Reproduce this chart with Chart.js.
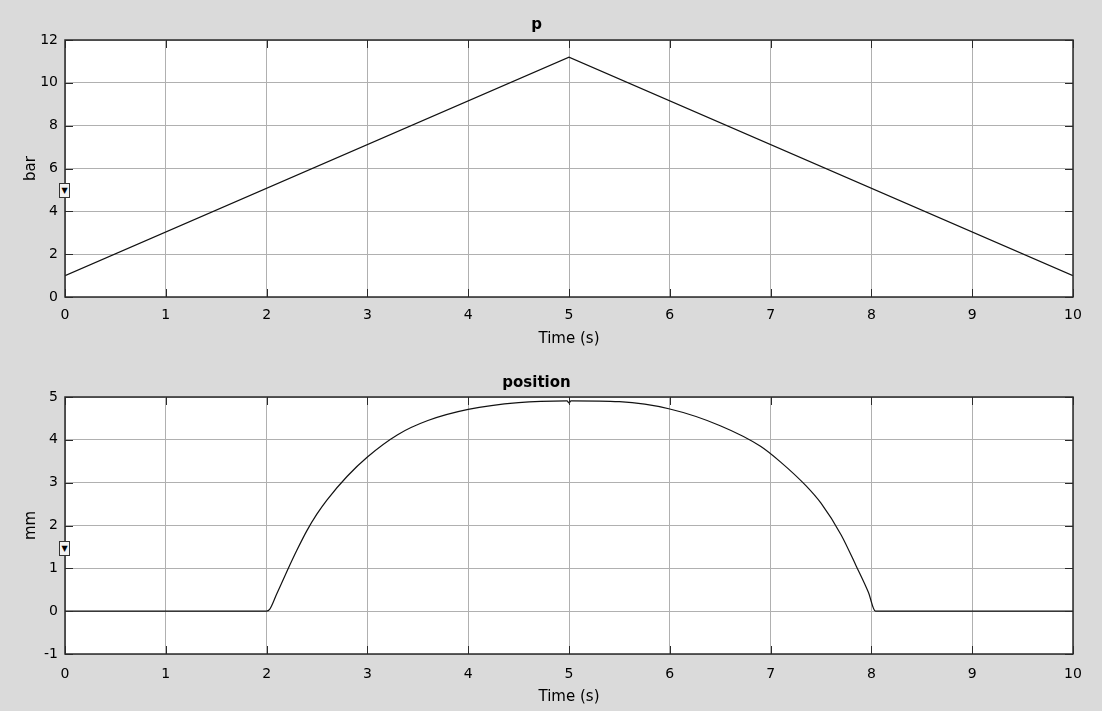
<!DOCTYPE html>
<html>
<head>
<meta charset="utf-8">
<script src="https://cdn.jsdelivr.net/npm/chart.js@4/dist/chart.umd.min.js"></script>
<style>
  html, body { margin: 0; padding: 0; background: #dadada; }
  body { width: 1102px; height: 711px; position: relative; overflow: hidden; }
  .box { position: absolute; left: 0; width: 1102px; }
  .marker {
    position: absolute; left: 59px; width: 9px; height: 13px;
    border: 1px solid #333; background: #f2f2f2;
    font: 8px "DejaVu Sans"; line-height: 13px; text-align: center; color: #000;
  }
</style>
</head>
<body>
<div class="box" style="top:0;height:350px"><canvas id="chartP"></canvas></div>
<div class="box" style="top:350px;height:361px"><canvas id="chartPos"></canvas></div>
<div class="marker" style="top:183px">▼</div>
<div class="marker" style="top:541px">▼</div>
<script>
// pressure p (bar) vs time
var pTime = [0, 5, 10];
var pVal = [1, 11.2, 1];

// position (mm) vs time
var posTime = [0, 1, 2, 2.03, 2.1, 2.2, 2.3, 2.4, 2.5, 2.6, 2.8, 3.0, 3.3, 3.6, 4.0, 4.5, 4.98, 5.0, 5.02,
               5.5, 6.0, 6.5, 6.9, 7.1, 7.35, 7.5, 7.7, 7.85, 7.97, 8.04, 9, 10];
var posVal = [0, 0, 0, 0.04, 0.4, 0.92, 1.42, 1.88, 2.27, 2.6, 3.15, 3.6, 4.12, 4.45, 4.71, 4.87, 4.91, 4.86, 4.91,
              4.89, 4.72, 4.33, 3.85, 3.48, 2.93, 2.52, 1.78, 1.05, 0.44, 0, 0, 0];

var xTicks = [0, 1, 2, 3, 4, 5, 6, 7, 8, 9, 10];

var FONT = '"DejaVu Sans", "Liberation Sans", sans-serif';

// white plot area, black frame and short inward tick marks
var frame = {
  id: 'frame',
  beforeDraw: function (chart) {
    var a = chart.chartArea, ctx = chart.ctx;
    ctx.save();
    ctx.fillStyle = '#fff';
    ctx.fillRect(a.left, a.top, a.right - a.left, a.bottom - a.top);
    ctx.restore();
  },
  afterDraw: function (chart) {
    var a = chart.chartArea, ctx = chart.ctx;
    var sx = chart.scales.x, sy = chart.scales.y;
    ctx.save();
    ctx.strokeStyle = '#2a2a2a';
    ctx.lineWidth = 1;
    ctx.beginPath();
    sx.ticks.forEach(function (t) {
      var px = Math.round(sx.getPixelForValue(t.value)) + 0.5;
      ctx.moveTo(px, a.bottom); ctx.lineTo(px, a.bottom - 8);
      ctx.moveTo(px, a.top); ctx.lineTo(px, a.top + 8);
    });
    sy.ticks.forEach(function (t) {
      var py = Math.round(sy.getPixelForValue(t.value)) + 0.5;
      ctx.moveTo(a.left, py); ctx.lineTo(a.left + 8, py);
      ctx.moveTo(a.right, py); ctx.lineTo(a.right - 8, py);
    });
    ctx.stroke();
    ctx.lineWidth = 1.5;
    ctx.strokeRect(a.left, a.top, a.right - a.left, a.bottom - a.top);
    ctx.restore();
  }
};

function makeChart(id, opts) {
  var pts = opts.xs.map(function (x, i) { return { x: x, y: opts.ys[i] }; });
  var ds = {
    data: pts,
    borderColor: '#111',
    borderWidth: 1.2,
    pointRadius: 0,
    tension: 0,
    fill: false
  };
  if (opts.smooth) ds.cubicInterpolationMode = 'monotone';
  return new Chart(document.getElementById(id), {
    type: 'line',
    data: { datasets: [ds] },
    options: {
      responsive: true,
      maintainAspectRatio: false,
      animation: false,
      layout: { padding: { left: 0, right: 29, top: 0, bottom: 0 } },
      plugins: {
        legend: { display: false },
        tooltip: { enabled: false },
        title: {
          display: true,
          text: opts.title,
          color: '#000',
          font: { family: FONT, size: 15, weight: 'bold' },
          padding: opts.titlePad
        }
      },
      scales: {
        x: {
          type: 'linear',
          min: 0, max: 10,
          afterBuildTicks: function (s) { s.ticks = xTicks.map(function (v) { return { value: v }; }); },
          afterFit: function (s) { s.height = opts.xHeight; },
          grid: { color: '#b0b0b0', lineWidth: 1, drawTicks: false },
          border: { display: false },
          ticks: { color: '#000', font: { family: FONT, size: 14 }, padding: opts.xTickPad, maxRotation: 0 },
          title: { display: true, text: 'Time (s)', color: '#000',
                   font: { family: FONT, size: 15 }, padding: { top: 0, bottom: opts.xTitlePad } }
        },
        y: {
          min: opts.yMin, max: opts.yMax,
          afterFit: function (s) { s.width = 65; },
          grid: { color: '#b0b0b0', lineWidth: 1, drawTicks: false },
          border: { display: false },
          ticks: { color: '#000', font: { family: FONT, size: 14 }, padding: 7, stepSize: opts.yStep },
          title: { display: true, text: opts.yTitle, color: '#000',
                   font: { family: FONT, size: 15 }, padding: { top: 22, bottom: 0 } }
        }
      }
    },
    plugins: [frame]
  });
}

makeChart('chartP', {
  xs: pTime, ys: pVal, title: 'p', yTitle: 'bar', smooth: false,
  yMin: 0, yMax: 12, yStep: 2,
  titlePad: { top: 16, bottom: 6 },
  xHeight: 53, xTickPad: 9.5, xTitlePad: 1.5
});

makeChart('chartPos', {
  xs: posTime, ys: posVal, title: 'position', yTitle: 'mm', smooth: true,
  yMin: -1, yMax: 5, yStep: 1,
  titlePad: { top: 24.5, bottom: 4.5 },
  xHeight: 57, xTickPad: 11.5, xTitlePad: 5
});
</script>
</body>
</html>
